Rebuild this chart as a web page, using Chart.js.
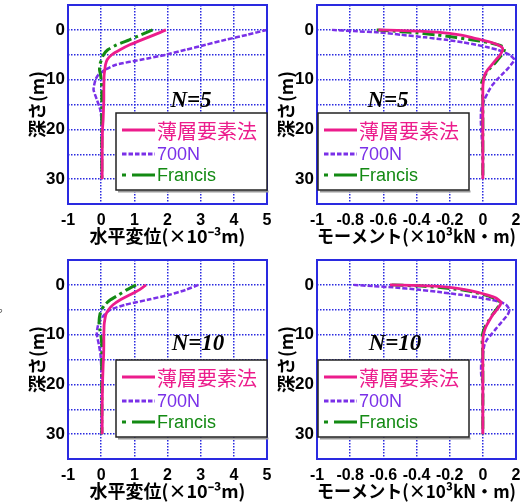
<!DOCTYPE html>
<html>
<head>
<meta charset="utf-8">
<script src="https://cdn.jsdelivr.net/npm/chart.js@4"></script>
<style>
body { margin: 0; background: #fff; width: 527px; height: 502px; overflow: hidden; position: relative; }
.pane { position: absolute; width: 278px; height: 250px; }
.mark { position: absolute; left: -2px; top: 298px; font: 12px "Noto Sans CJK JP"; color: #444; }
</style>
</head>
<body>
<div class="pane" style="left:0;top:0"><canvas id="c1" width="278" height="250"></canvas></div>
<div class="pane" style="left:249px;top:0"><canvas id="c2" width="278" height="250"></canvas></div>
<div class="pane" style="left:0;top:255px"><canvas id="c3" width="278" height="250"></canvas></div>
<div class="pane" style="left:249px;top:255px"><canvas id="c4" width="278" height="250"></canvas></div>
<span class="mark">。</span>
<script>
const dispDepth = [0, 1, 2, 3, 4, 5, 6, 7, 8, 9, 10, 12, 14, 16, 18, 20, 25, 30];
const momDepth = [0, 0.25, 0.5, 1, 1.5, 2, 2.5, 3, 3.5, 4, 5, 6, 7, 8, 9, 10, 11, 12, 14, 16, 18, 20, 25, 30];

// horizontal displacement (x10^-3 m), N=5
const dispN5Thin = [1.95, 1.6, 1.22, 0.86, 0.57, 0.32, 0.18, 0.13, 0.11, 0.09, 0.085, 0.08, 0.08, 0.07, 0.06, 0.04, 0.03, 0.03];
const dispN5N700 = [5.0, 4.4, 3.75, 3.15, 2.55, 1.95, 1.2, 0.45, 0.12, -0.08, -0.17, -0.23, -0.13, -0.03, 0.01, 0.02, 0.02, 0.02];
const dispN5Francis = [1.55, 1.2, 0.85, 0.47, 0.2, 0.07, 0.01, -0.04, -0.05, -0.02, 0.0, 0.02, 0.02, 0.02, 0.02, 0.02, 0.02, 0.02];

// horizontal displacement, N=10
const dispN10Thin = [1.35, 1.15, 0.87, 0.58, 0.36, 0.22, 0.14, 0.11, 0.09, 0.085, 0.08, 0.08, 0.075, 0.06, 0.05, 0.04, 0.03, 0.03];
const dispN10N700 = [2.93, 2.55, 2.05, 1.4, 0.72, 0.27, 0.1, -0.02, -0.09, -0.12, -0.13, -0.07, -0.02, 0.0, 0.01, 0.02, 0.02, 0.02];
const dispN10Francis = [1.05, 0.77, 0.53, 0.28, 0.11, 0.01, -0.04, -0.06, -0.06, -0.04, -0.01, 0.02, 0.02, 0.02, 0.02, 0.02, 0.02, 0.02];

// moment (x10^3 kN m), N=5
const momN5Thin = [-0.63, -0.40, -0.26, -0.14, -0.07, -0.01, 0.05, 0.09, 0.115, 0.12, 0.105, 0.08, 0.055, 0.03, 0.012, 0.005, 0.001, 0, 0, 0, 0, 0, 0, 0];
const momN5N700 = [-0.91, -0.78, -0.63, -0.49, -0.35, -0.22, -0.12, -0.04, 0.03, 0.09, 0.16, 0.19, 0.17, 0.145, 0.115, 0.085, 0.06, 0.04, 0.01, -0.01, -0.012, -0.01, 0, 0];
const momN5Francis = [-0.64, -0.54, -0.44, -0.28, -0.17, -0.07, 0.03, 0.09, 0.13, 0.13, 0.115, 0.09, 0.065, 0.035, 0.015, 0, -0.01, -0.005, 0, 0, 0, 0, 0, 0];

// moment, N=10
const momN10Thin = [-0.56, -0.29, -0.2, -0.1, -0.03, 0.025, 0.07, 0.095, 0.11, 0.105, 0.085, 0.06, 0.042, 0.025, 0.012, 0.004, 0, 0, 0, 0, 0, 0, 0, 0];
const momN10N700 = [-0.78, -0.66, -0.54, -0.38, -0.25, -0.13, -0.03, 0.05, 0.11, 0.14, 0.16, 0.15, 0.125, 0.1, 0.075, 0.05, 0.025, 0.01, 0, -0.01, -0.01, 0, 0, 0];
const momN10Francis = [-0.55, -0.37, -0.27, -0.13, -0.05, 0.01, 0.055, 0.09, 0.1, 0.1, 0.08, 0.058, 0.038, 0.02, 0.006, -0.002, -0.005, -0.003, 0, 0, 0, 0, 0, 0];

const seriesNames = ['薄層要素法', '700N', 'Francis'];
const depthTicks = [0, 10, 20, 30];

const pink = '#ec1c8c', purple = '#7a30e8', green = '#138a13';
const blue = '#2a2ae0';

function pts(depth, vals) {
    return vals.map((v, i) => ({ x: v, y: depth[i] }));
}

// frame, N= label and the boxed legend
const panelDeco = {
    id: 'panelDeco',
    afterDatasetsDraw(chart, args, o) {
        const ctx = chart.ctx, a = chart.chartArea;
        ctx.save();
        ctx.strokeStyle = blue;
        ctx.lineWidth = 2;
        ctx.setLineDash([]);
        ctx.strokeRect(a.left, a.top, a.right - a.left, a.bottom - a.top);

        ctx.fillStyle = '#000';
        ctx.font = 'italic bold 23px "Liberation Serif"';
        ctx.textAlign = 'center';
        ctx.textBaseline = 'alphabetic';
        ctx.fillText(o.label, a.left + o.labelX, a.top + o.labelY);

        const bx = a.left + o.boxX, by = a.top + o.boxY, bw = 151, bh = 77;
        ctx.fillStyle = '#fff';
        ctx.fillRect(bx, by, bw, bh);
        ctx.strokeStyle = '#999';
        ctx.lineWidth = 2;
        ctx.beginPath();
        ctx.moveTo(bx + 2, by + bh + 1.5);
        ctx.lineTo(bx + bw + 1.5, by + bh + 1.5);
        ctx.stroke();
        ctx.strokeStyle = '#222';
        ctx.lineWidth = 1.5;
        ctx.strokeRect(bx, by, bw, bh);

        const rows = [17, 41, 62];
        const cols = [pink, purple, green];
        ctx.textAlign = 'left';
        ctx.textBaseline = 'middle';
        rows.forEach((ry, i) => {
            const y = by + ry, x0 = bx + 6, x1 = bx + 39;
            ctx.strokeStyle = cols[i];
            ctx.lineWidth = 3;
            if (i === 0) {
                ctx.setLineDash([]);
            } else if (i === 1) {
                ctx.setLineDash([4.5, 2]);
            } else {
                ctx.setLineDash([4, 6, 30, 2]);
            }
            ctx.beginPath();
            ctx.moveTo(x0, y);
            ctx.lineTo(x1, y);
            ctx.stroke();
            ctx.setLineDash([]);
            ctx.fillStyle = cols[i];
            ctx.font = i === 0 ? '20px "Noto Sans CJK JP"' : '18px "Liberation Sans"';
            ctx.fillText(seriesNames[i], bx + 41, y + 1);
        });
        ctx.restore();
    }
};

function makePanel(id, xMin, xMax, xStep, xTitle, thin, n700, francis, depth, deco) {
    const ctx = document.getElementById(id).getContext('2d');
    return new Chart(ctx, {
        type: 'scatter',
        data: {
            datasets: [{
                label: seriesNames[0],
                data: pts(depth, thin),
                borderColor: pink,
                borderWidth: 2.8,
                showLine: true,
                pointRadius: 0,
                tension: 0.2
            }, {
                label: seriesNames[2],
                data: pts(depth, francis),
                borderColor: green,
                borderWidth: 3,
                borderDash: [12, 4, 3, 4],
                showLine: true,
                pointRadius: 0,
                tension: 0.2
            }, {
                label: seriesNames[1],
                data: pts(depth, n700),
                borderColor: purple,
                borderWidth: 2.5,
                borderDash: [5, 2],
                showLine: true,
                pointRadius: 0,
                tension: 0.2
            }]
        },
        options: {
            responsive: false,
            animation: false,
            layout: { padding: { top: 5, right: 11, left: 0, bottom: 0 } },
            plugins: {
                legend: { display: false },
                tooltip: { enabled: false },
                panelDeco: deco
            },
            scales: {
                x: {
                    type: 'linear',
                    min: xMin,
                    max: xMax,
                    afterFit(s) { s.height = 46; s.paddingLeft = 0; s.paddingRight = 0; },
                    border: { display: false, dash: [1.5, 1.5] },
                    grid: { color: blue, lineWidth: 1.5, drawTicks: false },
                    ticks: {
                        stepSize: xStep,
                        autoSkip: false,
                        maxRotation: 0,
                        padding: 7,
                        color: '#000',
                        font: { family: '"Liberation Sans"', size: 16, weight: 'bold' },
                        callback(v) {
                            const r = Math.round(v * 10) / 10;
                            if (xStep < 1 && Math.abs(r - 0.2) < 1e-6) return '2';
                            return String(r);
                        }
                    },
                    title: {
                        display: true,
                        text: xTitle,
                        color: '#000',
                        padding: { top: 0, bottom: 3 },
                        font: { family: '"Noto Sans CJK JP"', size: 18, weight: 'bold' }
                    }
                },
                y: {
                    type: 'linear',
                    min: -5,
                    max: 35,
                    reverse: true,
                    afterFit(s) { s.width = 68; s.paddingTop = 0; s.paddingBottom = 0; },
                    border: { display: false, dash: [1.5, 1.5] },
                    grid: { color: blue, lineWidth: 1.5, drawTicks: false },
                    ticks: {
                        stepSize: 5,
                        autoSkip: false,
                        padding: 3,
                        color: '#000',
                        font: { family: '"Liberation Sans"', size: 17, weight: 'bold' },
                        callback(v) { return depthTicks.includes(v) ? String(v) : ''; }
                    },
                    title: {
                        display: true,
                        text: '深さ(m)',
                        color: '#000',
                        padding: { top: 26, bottom: 0 },
                        font: { family: '"Noto Sans CJK JP"', size: 18, weight: 'bold' }
                    }
                }
            }
        },
        plugins: [panelDeco]
    });
}

const dispTitle = '水平変位(×10⁻³m)';
const momTitle = 'モーメント(×10³kN・m)';

makePanel('c1', -1, 5, 1, dispTitle, dispN5Thin, dispN5N700, dispN5Francis, dispDepth,
    { label: 'N=5', labelX: 123, labelY: 102, boxX: 48, boxY: 108 });
makePanel('c2', -1, 0.2, 0.2, momTitle, momN5Thin, momN5N700, momN5Francis, momDepth,
    { label: 'N=5', labelX: 71, labelY: 102, boxX: 1, boxY: 108 });
makePanel('c3', -1, 5, 1, dispTitle, dispN10Thin, dispN10N700, dispN10Francis, dispDepth,
    { label: 'N=10', labelX: 130, labelY: 90, boxX: 48, boxY: 100 });
makePanel('c4', -1, 0.2, 0.2, momTitle, momN10Thin, momN10N700, momN10Francis, momDepth,
    { label: 'N=10', labelX: 78, labelY: 90, boxX: 1, boxY: 100 });
</script>
</body>
</html>
